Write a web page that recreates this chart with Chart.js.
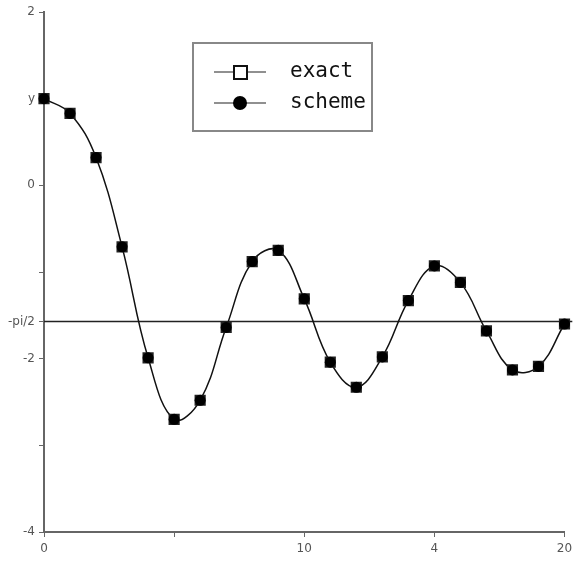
<!DOCTYPE html>
<html>
<head>
<meta charset="utf-8">
<script src="https://cdn.jsdelivr.net/npm/chart.js@4/dist/chart.umd.min.js"></script>
<style>
html,body{margin:0;padding:0;background:#fff;}
#wrap{width:573px;height:565px;}
</style>
</head>
<body>
<div id="wrap"><canvas id="c"></canvas></div>
<script>
const xs = [0,1,2,3,4,5,6,7,8,9,10,11,12,13,14,15,16,17,18,19,20];
const exactVals = [1.0,0.83,0.32,-0.71,-1.99,-2.70,-2.48,-1.64,-0.88,-0.75,-1.31,-2.04,-2.33,-1.98,-1.33,-0.93,-1.12,-1.68,-2.13,-2.09,-1.60];
const schemeVals = [1.0,0.83,0.32,-0.71,-1.99,-2.70,-2.48,-1.64,-0.88,-0.75,-1.31,-2.04,-2.33,-1.98,-1.33,-0.93,-1.12,-1.68,-2.13,-2.09,-1.60];
const refLevel = -Math.PI/2;
const xTickVals = [0,5,10,15,20];
const xTickLabels = ['0','','10','4','20'];
const yTickVals = [2,1,0,-1,refLevel,-2,-3,-4];
const yTickLabels = ['2','y','0','','-pi/2','-2','','-4'];
const legendLabels = ['exact','scheme'];

const legendPlugin = {
  id:'boxLegend',
  afterDraw(chart){
    const ctx = chart.ctx;
    ctx.save();
    ctx.strokeStyle = '#888';
    ctx.lineWidth = 2;
    ctx.strokeRect(193,43,179,88);
    const rows = [72,103];
    ctx.font = '21px "DejaVu Sans Mono"';
    ctx.textBaseline = 'middle';
    ctx.fillStyle = '#111';
    rows.forEach((y,i)=>{
      ctx.strokeStyle = '#222';
      ctx.lineWidth = 1.2;
      ctx.beginPath(); ctx.moveTo(214,y); ctx.lineTo(266,y); ctx.stroke();
      if(i===0){
        ctx.fillStyle='#fff';
        ctx.fillRect(234,66,13,13);
        ctx.lineWidth = 2;
        ctx.strokeStyle='#111';
        ctx.strokeRect(234,66,13,13);
      } else {
        ctx.fillStyle='#000';
        ctx.beginPath(); ctx.arc(240,y,7,0,Math.PI*2); ctx.fill();
      }
      ctx.fillStyle='#111';
      ctx.fillText(legendLabels[i],290,y);
    });
    ctx.restore();
  }
};

new Chart(document.getElementById('c'),{
  type:'scatter',
  data:{
    datasets:[
      {label:'scheme',data:xs.map((x,i)=>({x,y:schemeVals[i]})),showLine:false,pointStyle:'circle',pointRadius:5.5,pointBackgroundColor:'#000',pointBorderColor:'#000',pointBorderWidth:0,order:0,clip:false},
      {label:'exact',data:xs.map((x,i)=>({x,y:exactVals[i]})),showLine:true,tension:0.4,borderColor:'#111',borderWidth:1.5,pointStyle:'rect',pointRadius:6.5,pointBackgroundColor:'#444',pointBorderColor:'#222',pointBorderWidth:2,order:1,clip:false},
      {label:'ref',data:[{x:0,y:refLevel},{x:20.3,y:refLevel}],showLine:true,borderColor:'#222',borderWidth:1.5,pointRadius:0,order:2,clip:false}
    ]
  },
  options:{
    responsive:true,maintainAspectRatio:false,animation:false,
    layout:{padding:{left:0,right:0,top:12,bottom:0}},
    plugins:{legend:{display:false},tooltip:{enabled:false}},
    scales:{
      x:{type:'linear',min:0,max:20,
        afterBuildTicks(s){s.ticks=xTickVals.map(v=>({value:v}));},
        afterFit(s){s.height=33;s.paddingRight=8;s.paddingLeft=0;},
        border:{color:'#666',width:2},
        grid:{drawOnChartArea:false,tickLength:5,color:'#666'},
        ticks:{color:'#555',font:{family:'DejaVu Sans',size:12},padding:5,maxRotation:0,autoSkip:false,
          callback(v){const i=xTickVals.indexOf(v);return i>=0?xTickLabels[i]:'';}}
      },
      y:{type:'linear',min:-4,max:2,
        afterBuildTicks(s){s.ticks=yTickVals.map(v=>({value:v}));},
        afterFit(s){s.width=44;},
        border:{color:'#666',width:2},
        grid:{drawOnChartArea:false,tickLength:5,color:'#666'},
        ticks:{color:'#555',font:{family:'DejaVu Sans',size:12},padding:4,autoSkip:false,
          callback(v){const i=yTickVals.findIndex(t=>Math.abs(t-v)<1e-9);return i>=0?yTickLabels[i]:'';}}
      }
    }
  },
  plugins:[legendPlugin]
});
</script>
</body>
</html>
